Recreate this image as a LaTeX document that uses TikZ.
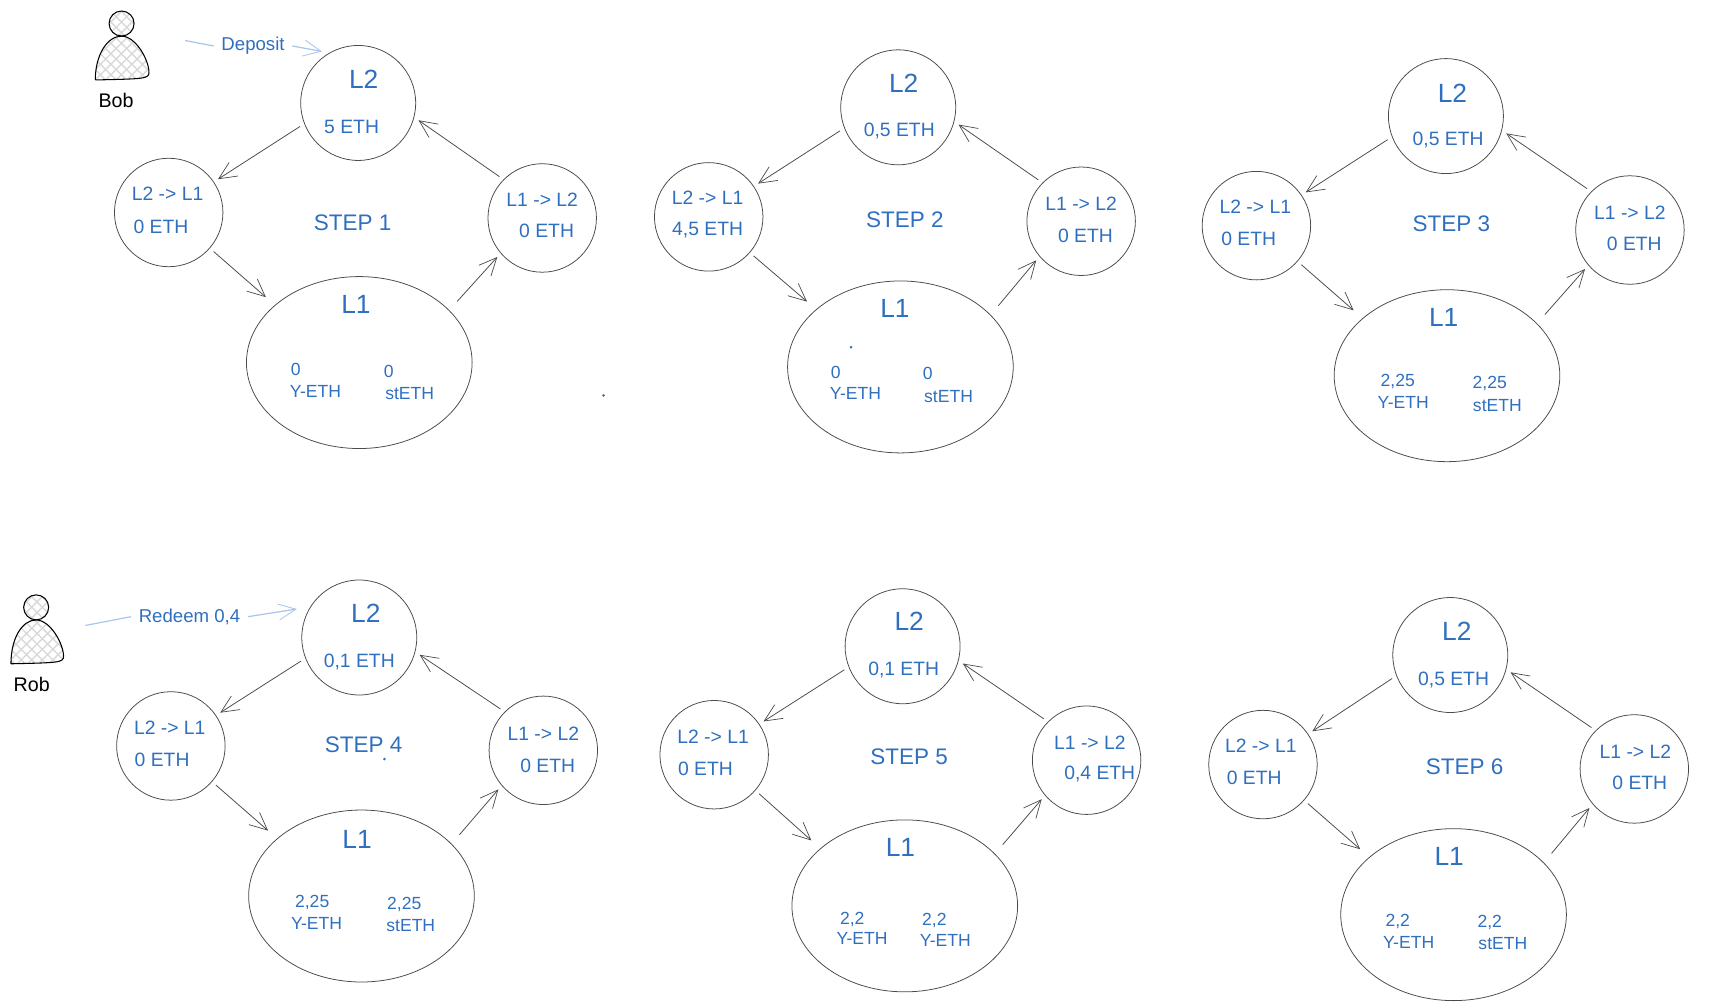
\documentclass[tikz,border=0pt]{standalone}
\usepackage{fontspec}
\setmainfont{Liberation Sans}
\usetikzlibrary{arrows.meta,patterns,shapes.geometric}
\definecolor{inkblue}{HTML}{2F6FBF}
\definecolor{paleblue}{HTML}{A9C6EC}
\definecolor{penline}{HTML}{4A4A4A}
\tikzset{
  big/.style={draw=penline,line width=0.22pt,circle,inner sep=0pt,minimum size=1.15cm,outer sep=1.5pt},
  side/.style={draw=penline,line width=0.22pt,circle,inner sep=0pt,minimum size=1.085cm,outer sep=1.5pt},
  base/.style={draw=penline,line width=0.22pt,ellipse,inner sep=0pt,minimum width=2.257cm,minimum height=1.72cm,outer sep=3.5pt},
  edge/.style={draw=penline,line width=0.22pt,-{Straight Barb[length=5pt,width=4.6pt,line width=0.2pt]}},
  txt/.style={text=inkblue,inner sep=0pt,font=\fontsize{5.5}{6}\selectfont},
  head/.style={text=inkblue,inner sep=0pt,font=\fontsize{7.5}{8}\selectfont},
  title/.style={text=inkblue,inner sep=0pt,font=\fontsize{6.4}{7}\selectfont},
  amount/.style={text=inkblue,inner sep=0pt,font=\fontsize{5}{6}\selectfont},
  actor/.style={text=black,inner sep=0pt,font=\fontsize{5.6}{6}\selectfont},
  action/.style={text=inkblue,inner sep=0pt,font=\fontsize{5.3}{6}\selectfont},
  flow/.style={draw=paleblue,line width=0.35pt},
  speck/.style={circle,fill=inkblue,inner sep=0pt,minimum size=0.8pt},
  person/.style={draw=black,line width=0.3pt,pattern=crosshatch,pattern color=gray!30}
}
\begin{document}
\begin{tikzpicture}[x=0.010954cm,y=-0.010954cm]
  \useasboundingbox (0,0) rectangle (1568.4,920.2);

  % Bob
  \node[person,circle,inner sep=0pt,minimum size=0.25cm] (bobhead) at (111,21.5) {};
  \draw[person] (87,73) .. controls (87,50) and (98,33) .. (111,33) .. controls (124,33) and (136,55) .. (136,66) .. controls (136,72) and (132,72) .. (87,73);
  \node[actor] (bob) at (106,92) {Bob};
  \coordinate (depfrom) at (169,37);
  \coordinate (depto) at (294,47);
  \node[action,inner xsep=2pt] (deposit) at (231,42) {Deposit};
  \draw[flow] (depfrom) -- (deposit.west);
  \draw[flow,-{Straight Barb[length=5pt,width=4.6pt,line width=0.25pt]}] (deposit.east) -- (depto);

  % Rob
  \node[person,circle,inner sep=0pt,minimum size=0.25cm] (robhead) at (33,554.5) {};
  \draw[person] (10,606) .. controls (10,583) and (20,566) .. (33,566) .. controls (46,566) and (58,588) .. (58,599) .. controls (58,605) and (54,605) .. (10,606);
  \node[actor] (rob) at (29,625) {Rob};
  \coordinate (redfrom) at (78,571);
  \coordinate (redto) at (271,556);
  \node[action,inner xsep=2pt] (redeem) at (173,563) {Redeem 0,4};
  \draw[flow] (redfrom) -- (redeem.west);
  \draw[flow,-{Straight Barb[length=5pt,width=4.6pt,line width=0.25pt]}] (redeem.east) -- (redto);

  % specks
  \node[speck] (specka) at (551,361) {};
  \node[speck] (speckb) at (777,317) {};
  \node[speck] (speckc) at (351,693) {};

  % step 1
  \node[big] (topa) at (327,94) {};
  \node[side] (lefta) at (154,194) {};
  \node[side] (righta) at (495,199) {};
  \node[base] (lowa) at (328,331) {};
  \draw[edge] (topa.202) -- (lefta.34);
  \draw[edge] (lefta.319) -- (lowa.145);
  \draw[edge] (lowa.32) -- (righta.221);
  \draw[edge] (righta.136) -- (topa.344);
  \node[head] (topnamea) at (332,72) {L2};
  \node[txt] (topvala) at (321,116) {5 ETH};
  \node[txt] (leftnamea) at (153,177) {L2 -> L1};
  \node[txt] (leftvala) at (147,207) {0 ETH};
  \node[txt] (rightnamea) at (495,182) {L1 -> L2};
  \node[txt] (rightvala) at (499,211) {0 ETH};
  \node[title] (stepa) at (322,203) {STEP 1};
  \node[head] (lownamea) at (325,278) {L1};
  \node[amount] (yvala) at (270,337) {0};
  \node[amount] (ynamea) at (288,357) {Y-ETH};
  \node[amount] (svala) at (355,339) {0};
  \node[amount] (snamea) at (374,359) {stETH};

  % step 2
  \node[big] (topb) at (820,98) {};
  \node[side] (leftb) at (647,198) {};
  \node[side] (rightb) at (987,202) {};
  \node[base] (lowb) at (822,335) {};
  \draw[edge] (topb.202) -- (leftb.34);
  \draw[edge] (leftb.319) -- (lowb.145);
  \draw[edge] (lowb.32) -- (rightb.221);
  \draw[edge] (rightb.136) -- (topb.344);
  \node[head] (topnameb) at (825,76) {L2};
  \node[txt] (topvalb) at (821,120) {0,5 ETH};
  \node[txt] (leftnameb) at (646,181) {L2 -> L1};
  \node[txt] (leftvalb) at (646,210) {4,5 ETH};
  \node[txt] (rightnameb) at (987,186) {L1 -> L2};
  \node[txt] (rightvalb) at (991,215) {0 ETH};
  \node[title] (stepb) at (826,201) {STEP 2};
  \node[head] (lownameb) at (817,282) {L1};
  \node[amount] (yvalb) at (763,340) {0};
  \node[amount] (ynameb) at (781,359) {Y-ETH};
  \node[amount] (svalb) at (847,341) {0};
  \node[amount] (snameb) at (866,362) {stETH};

  % step 3
  \node[big] (topc) at (1320,106) {};
  \node[side] (leftc) at (1147,206) {};
  \node[side] (rightc) at (1488,210) {};
  \node[base] (lowc) at (1321,343) {};
  \draw[edge] (topc.202) -- (leftc.34);
  \draw[edge] (leftc.319) -- (lowc.145);
  \draw[edge] (lowc.32) -- (rightc.221);
  \draw[edge] (rightc.136) -- (topc.344);
  \node[head] (topnamec) at (1326,85) {L2};
  \node[txt] (topvalc) at (1322,128) {0,5 ETH};
  \node[txt] (leftnamec) at (1146,189) {L2 -> L1};
  \node[txt] (leftvalc) at (1140,218) {0 ETH};
  \node[txt] (rightnamec) at (1488,194) {L1 -> L2};
  \node[txt] (rightvalc) at (1492,223) {0 ETH};
  \node[title] (stepc) at (1325,204) {STEP 3};
  \node[head] (lownamec) at (1318,290) {L1};
  \node[amount] (yvalc) at (1276,348) {2,25};
  \node[amount] (ynamec) at (1281,367) {Y-ETH};
  \node[amount] (svalc) at (1360,350) {2,25};
  \node[amount] (snamec) at (1367,370) {stETH};

  % step 4
  \node[big] (topd) at (328,582) {};
  \node[side] (leftd) at (156,681) {};
  \node[side] (rightd) at (496,685) {};
  \node[base] (lowd) at (330,818) {};
  \draw[edge] (topd.202) -- (leftd.34);
  \draw[edge] (leftd.319) -- (lowd.145);
  \draw[edge] (lowd.32) -- (rightd.221);
  \draw[edge] (rightd.136) -- (topd.344);
  \node[head] (topnamed) at (334,560) {L2};
  \node[txt] (topvald) at (328,604) {0,1 ETH};
  \node[txt] (leftnamed) at (155,664) {L2 -> L1};
  \node[txt] (leftvald) at (148,694) {0 ETH};
  \node[txt] (rightnamed) at (496,670) {L1 -> L2};
  \node[txt] (rightvald) at (500,699) {0 ETH};
  \node[title] (stepd) at (332,680) {STEP 4};
  \node[head] (lownamed) at (326,766) {L1};
  \node[amount] (yvald) at (285,824) {2,25};
  \node[amount] (ynamed) at (289,843) {Y-ETH};
  \node[amount] (svald) at (369,826) {2,25};
  \node[amount] (snamed) at (375,845) {stETH};

  % step 5
  \node[big] (tope) at (824,590) {};
  \node[side] (lefte) at (652,689) {};
  \node[side] (righte) at (992,694) {};
  \node[base] (lowe) at (826,827) {};
  \draw[edge] (tope.202) -- (lefte.34);
  \draw[edge] (lefte.319) -- (lowe.145);
  \draw[edge] (lowe.32) -- (righte.221);
  \draw[edge] (righte.136) -- (tope.344);
  \node[head] (topnamee) at (830,567) {L2};
  \node[txt] (topvale) at (825,612) {0,1 ETH};
  \node[txt] (leftnamee) at (651,673) {L2 -> L1};
  \node[txt] (leftvale) at (644,702) {0 ETH};
  \node[txt] (rightnamee) at (995,678) {L1 -> L2};
  \node[txt] (rightvale) at (1004,707) {0,4 ETH};
  \node[title] (stepe) at (830,691) {STEP 5};
  \node[head] (lownamee) at (822,774) {L1};
  \node[amount] (yvale) at (778,839) {2,2};
  \node[amount] (ynamee) at (787,857) {Y-ETH};
  \node[amount] (svale) at (853,840) {2,2};
  \node[amount] (snamee) at (863,859) {Y-ETH};

  % step 6
  \node[big] (topf) at (1324,598) {};
  \node[side] (leftf) at (1153,698) {};
  \node[side] (rightf) at (1492,702) {};
  \node[base] (lowf) at (1327,835) {};
  \draw[edge] (topf.202) -- (leftf.34);
  \draw[edge] (leftf.319) -- (lowf.145);
  \draw[edge] (lowf.32) -- (rightf.221);
  \draw[edge] (rightf.136) -- (topf.344);
  \node[head] (topnamef) at (1330,576) {L2};
  \node[txt] (topvalf) at (1327,621) {0,5 ETH};
  \node[txt] (leftnamef) at (1151,681) {L2 -> L1};
  \node[txt] (leftvalf) at (1145,710) {0 ETH};
  \node[txt] (rightnamef) at (1493,686) {L1 -> L2};
  \node[txt] (rightvalf) at (1497,715) {0 ETH};
  \node[title] (stepf) at (1337,700) {STEP 6};
  \node[head] (lownamef) at (1323,782) {L1};
  \node[amount] (yvalf) at (1276,841) {2,2};
  \node[amount] (ynamef) at (1286,860) {Y-ETH};
  \node[amount] (svalf) at (1360,842) {2,2};
  \node[amount] (snamef) at (1372,861) {stETH};
\end{tikzpicture}
\end{document}
